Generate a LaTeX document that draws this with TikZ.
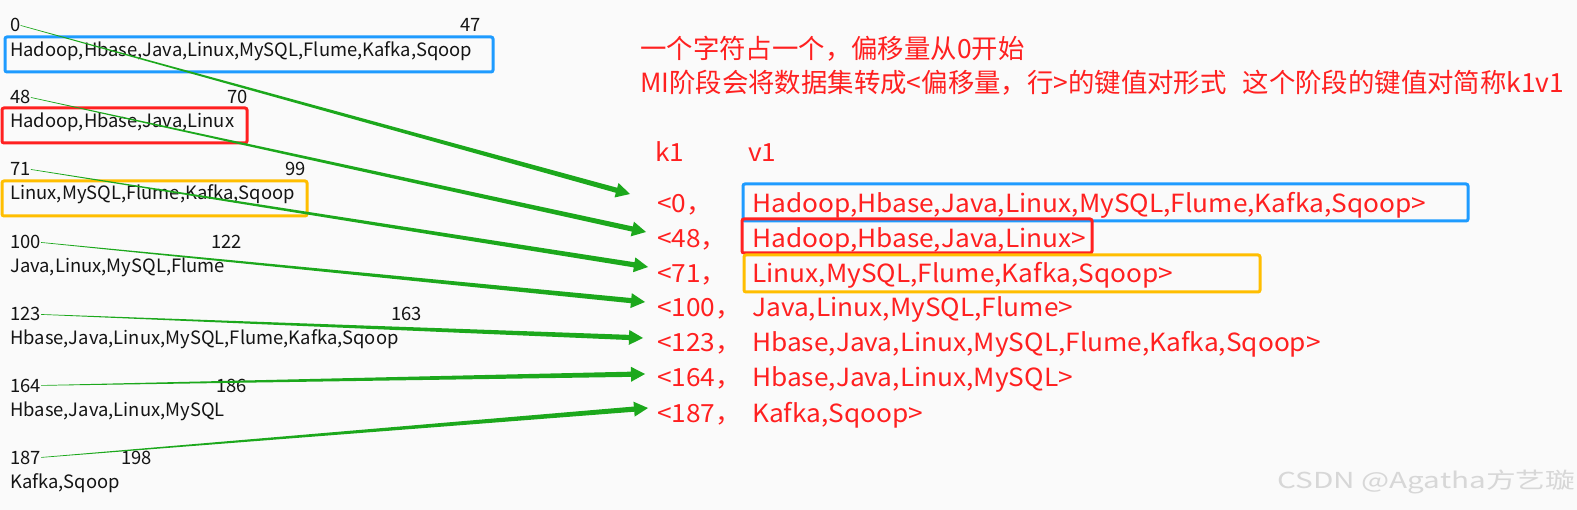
\documentclass[tikz,border=0pt]{standalone}
\usepackage{fontspec}
\setmainfont{Noto Sans CJK SC}
\newfontfamily\rfont[FakeStretch=1.05]{Noto Sans CJK SC}
\newfontfamily\wfont[FakeStretch=1.35]{Noto Sans CJK SC}
\usetikzlibrary{calc}
\definecolor{agreen}{RGB}{28,168,28}
\definecolor{kred}{RGB}{255,32,32}
\definecolor{kblue}{RGB}{30,155,255}
\definecolor{kyel}{RGB}{255,190,0}
\definecolor{bgc}{RGB}{250,250,250}
\definecolor{wmc}{RGB}{215,215,215}
\newcommand\taperarrow[2]{%
  \coordinate (tb) at ($(#2)!14pt!(#1)$);
  \fill[agreen] ($(#1)!0.3pt!90:(tb)$) -- ($(tb)!2.6pt!-90:(#1)$) -- ($(tb)!7.5pt!-90:(#1)$) -- (#2)
    -- ($(tb)!7.5pt!90:(#1)$) -- ($(tb)!2.6pt!90:(#1)$) -- ($(#1)!0.3pt!-90:(tb)$) -- cycle;
}
\begin{document}
\begin{tikzpicture}[x=1pt,y=-1pt,
  lt/.style={anchor=base west,inner sep=0pt,font=\fontsize{18.4}{22}\selectfont,text=black!92},
  rt/.style={anchor=base west,inner sep=0pt,font=\rfont\fontsize{25}{30}\selectfont,text=kred},
  ct/.style={anchor=base west,inner sep=0pt,font=\fontsize{26.4}{30}\selectfont,text=kred},
  bbox/.style={draw=kblue,line width=3pt,rounded corners=2pt},
  rbox/.style={draw=kred,line width=3pt,rounded corners=2pt},
  ybox/.style={draw=kyel,line width=3pt,rounded corners=2pt}]
\fill[bgc] (0,0) rectangle (1577,510);
\useasboundingbox (0,0) rectangle (1577,510);
% left boxes
\draw[bbox] (5,37) rectangle (493,72);
\draw[rbox] (2,108) rectangle (247,143);
\draw[ybox] (2,181) rectangle (307,216);
% left column
\node[lt] (n0) at (10,32) {0};   \node[lt] (m0) at (460,32) {47};
\node[lt] (t0) at (10,57) {Hadoop,Hbase,Java,Linux,MySQL,Flume,Kafka,Sqoop};
\node[lt] (n1) at (10,104) {48}; \node[lt] (m1) at (227,104) {70};
\node[lt] (t1) at (10,128) {Hadoop,Hbase,Java,Linux};
\node[lt] (n2) at (10,176) {71}; \node[lt] (m2) at (285,176) {99};
\node[lt] (t2) at (10,200) {Linux,MySQL,Flume,Kafka,Sqoop};
\node[lt] (n3) at (10,249) {100}; \node[lt] (m3) at (211,249) {122};
\node[lt] (t3) at (10,273) {Java,Linux,MySQL,Flume};
\node[lt] (n4) at (10,321) {123}; \node[lt] (m4) at (391,321) {163};
\node[lt] (t4) at (10,345) {Hbase,Java,Linux,MySQL,Flume,Kafka,Sqoop};
\node[lt] (n5) at (10,392) {164}; \node[lt] (m5) at (216,392) {186};
\node[lt] (t5) at (10,417) {Hbase,Java,Linux,MySQL};
\node[lt] (n6) at (10,464) {187}; \node[lt] (m6) at (121,464) {198};
\node[lt] (t6) at (10,488) {Kafka,Sqoop};
% right header
\node[ct] (h1) at (640,59) {一个字符占一个，偏移量从0开始};
\node[ct] (h2) at (640,93) {MI阶段会将数据集转成<偏移量，行>的键值对形式\hspace{16pt}这个阶段的键值对简称k1v1};
\node[rt] (kh) at (655,162) {k1};
\node[rt] (vh) at (748,162) {v1};
% right boxes
\draw[bbox] (743,184) rectangle (1468,221);
\draw[rbox] (742,219) rectangle (1092,253);
\draw[ybox] (744,255) rectangle (1260,292);
% right rows
\node[rt] (k0) at (657,213) {<0，};   \node[rt] (v0) at (752,213) {Hadoop,Hbase,Java,Linux,MySQL,Flume,Kafka,Sqoop>};
\node[rt] (k1) at (657,248) {<48，};  \node[rt] (v1) at (752,248) {Hadoop,Hbase,Java,Linux>};
\node[rt] (k2) at (657,283) {<71，};  \node[rt] (v2) at (752,283) {Linux,MySQL,Flume,Kafka,Sqoop>};
\node[rt] (k3) at (657,317) {<100，}; \node[rt] (v3) at (752,317) {Java,Linux,MySQL,Flume>};
\node[rt] (k4) at (657,352) {<123，}; \node[rt] (v4) at (752,352) {Hbase,Java,Linux,MySQL,Flume,Kafka,Sqoop>};
\node[rt] (k5) at (657,387) {<164，}; \node[rt] (v5) at (752,387) {Hbase,Java,Linux,MySQL>};
\node[rt] (k6) at (657,422) {<187，}; \node[rt] (v6) at (752,422) {Kafka,Sqoop>};
% watermark
\node[anchor=base west,inner sep=0pt,font=\wfont\fontsize{22}{26}\selectfont,text=wmc] (wm) at (1277,488) {CSDN @Agatha方艺璇};
% arrows
\coordinate (e0) at (630,194);
\coordinate (e1) at (646,232);
\coordinate (e2) at (648,267);
\coordinate (e3) at (645,302);
\coordinate (e4) at (643,338);
\coordinate (e5) at (645,374);
\coordinate (e6) at (648,408);
\taperarrow{n0.east}{e0}
\taperarrow{n1.east}{e1}
\taperarrow{n2.east}{e2}
\taperarrow{n3.east}{e3}
\taperarrow{n4.east}{e4}
\taperarrow{n5.east}{e5}
\taperarrow{n6.east}{e6}
\end{tikzpicture}
\end{document}
